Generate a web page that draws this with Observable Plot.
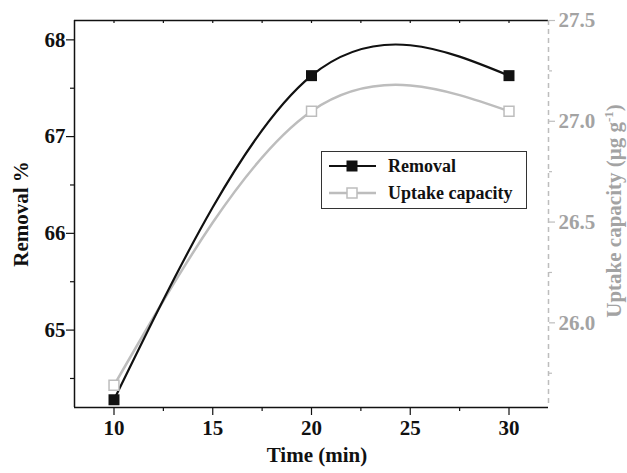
<!DOCTYPE html>
<html>
<head>
<meta charset="utf-8">
<script src="https://cdn.jsdelivr.net/npm/d3@7"></script>
<script src="https://cdn.jsdelivr.net/npm/@observablehq/plot@0.6"></script>
<style>
  html, body { margin: 0; padding: 0; background: #fff; }
  #wrap { position: relative; width: 627px; height: 473px; }
  #legend { position: absolute; left: 321px; top: 151px; width: 204px; height: 56px;
            border: 1px solid #333; background: #fff; }
</style>
</head>
<body>
<div id="wrap"></div>
<script>
// ---- data ----
const time = [10, 20, 30];
const removal = [64.28, 67.63, 67.63];
const uptake = [25.69, 27.05, 27.05];

const xDomain = [8, 32];
const removalDomain = [64.2, 68.2];
const uptakeDomain = [25.58, 27.5];

const xTicks = [10, 15, 20, 25, 30];
const xMinorTicks = [12.5, 17.5, 22.5, 27.5];
const removalTicks = [65, 66, 67, 68];
const removalMinorTicks = [64.5, 65.5, 66.5, 67.5];
const uptakeTicks = [26.0, 26.5, 27.0, 27.5];
const uptakeMinorTicks = [25.75, 26.25, 26.75, 27.25];

const seriesNames = ["Removal", "Uptake capacity"];

// ---- helpers ----
const toLeft = u => removalDomain[0] + (u - uptakeDomain[0]) * (removalDomain[1] - removalDomain[0]) / (uptakeDomain[1] - uptakeDomain[0]);
const fromLeft = r => uptakeDomain[0] + (r - removalDomain[0]) * (uptakeDomain[1] - uptakeDomain[0]) / (removalDomain[1] - removalDomain[0]);

const data = time.map((t, i) => ({time: t, removal: removal[i], uptake: uptake[i]}));
const GRAY_TXT = "#a3a3a3";
const GRAY_LINE = "#bdbdbd";
const FONT = "Liberation Serif";
const PLOT_H = 473 - 20 - 66;
const txt = {fontFamily: FONT, fontWeight: "bold", fontSize: 21};

const chart = Plot.plot({
  width: 627,
  height: 473,
  marginLeft: 74,
  marginRight: 79,
  marginTop: 20,
  marginBottom: 66,
  x: {domain: xDomain, label: null},
  y: {domain: removalDomain, label: null},
  marks: [
    // frame
    Plot.ruleY([removalDomain[0]], {stroke: "#111", strokeWidth: 1.5}),
    Plot.ruleY([removalDomain[1]], {stroke: "#111", strokeWidth: 1.5}),
    Plot.ruleX([xDomain[0]], {stroke: "#111", strokeWidth: 1.5}),
    Plot.ruleX([xDomain[1]], {stroke: GRAY_LINE, strokeWidth: 1.5, strokeDasharray: "5,4"}),
    // bottom axis
    Plot.axisX(xTicks, {anchor: "bottom", tickSize: 8, tickPadding: 5, ...txt,
      tickFormat: d => String(d), stroke: "#111", fill: "#111", strokeWidth: 1.2}),
    Plot.axisX(xMinorTicks, {anchor: "bottom", tickSize: 4, tickFormat: () => "", stroke: "#111", strokeWidth: 1.2}),
    // top inward ticks
    Plot.ruleX(xTicks.concat(xMinorTicks), {insetBottom: PLOT_H - 3, stroke: "#111", strokeWidth: 1.2}),
    // left axis
    Plot.axisY(removalTicks, {anchor: "left", tickSize: 8, tickPadding: 1, ...txt,
      tickFormat: d => String(d), stroke: "#111", fill: "#111", strokeWidth: 1.2}),
    Plot.axisY(removalMinorTicks, {anchor: "left", tickSize: 4, tickFormat: () => "", stroke: "#111", strokeWidth: 1.2}),
    // right axis (uptake, mapped)
    Plot.axisY(uptakeTicks.map(toLeft), {anchor: "right", tickSize: 6, tickPadding: 4, ...txt,
      tickFormat: d => fromLeft(d).toFixed(1), stroke: GRAY_LINE, fill: GRAY_TXT, strokeWidth: 1.2}),
    Plot.axisY(uptakeMinorTicks.map(toLeft), {anchor: "right", tickSize: 3, tickFormat: () => "", stroke: GRAY_LINE, strokeWidth: 1.2}),
    // lines
    Plot.line(data, {x: "time", y: d => toLeft(d.uptake), curve: "natural", stroke: GRAY_LINE, strokeWidth: 2.5}),
    Plot.line(data, {x: "time", y: "removal", curve: "natural", stroke: "#111", strokeWidth: 2.2}),
    // markers
    Plot.dot(data, {x: "time", y: d => toLeft(d.uptake), symbol: "square", r: 5.6, fill: "#fff", stroke: GRAY_LINE, strokeWidth: 1.5}),
    Plot.dot(data, {x: "time", y: "removal", symbol: "square", r: 6.2, fill: "#111", stroke: "none"})
  ]
});

const wrap = document.getElementById("wrap");
wrap.appendChild(chart);

// axis titles
const svg = d3.select(chart);
svg.append("text")
  .attr("x", 317).attr("y", 462)
  .attr("text-anchor", "middle")
  .attr("font-family", FONT).attr("font-weight", "bold")
  .attr("font-size", 21).attr("fill", "#111")
  .text("Time (min)");
svg.append("text")
  .attr("transform", "translate(28,214) rotate(-90)")
  .attr("text-anchor", "middle")
  .attr("font-family", FONT).attr("font-weight", "bold")
  .attr("font-size", 21).attr("fill", "#111")
  .text("Removal %");
const rt = svg.append("text")
  .attr("transform", "translate(621,211) rotate(-90)")
  .attr("text-anchor", "middle")
  .attr("font-family", FONT).attr("font-weight", "bold")
  .attr("font-size", 21).attr("fill", GRAY_TXT);
rt.append("tspan").text("Uptake capacity (μg g");
rt.append("tspan").attr("font-size", 13).attr("dy", -8).text("-1");
rt.append("tspan").attr("dy", 8).text(")");

// legend
const leg = document.createElement("div");
leg.id = "legend";
wrap.appendChild(leg);
const ls = d3.select(leg).append("svg").attr("width", 204).attr("height", 56);
const legStyles = [
  {stroke: "#111", fill: "#111", sw: 2.2, ms: 11, mstroke: "none"},
  {stroke: GRAY_LINE, fill: "#fff", sw: 2.5, ms: 10, mstroke: GRAY_LINE}
];
seriesNames.forEach((name, i) => {
  const s = legStyles[i];
  const cy = 14 + i * 27;
  ls.append("line").attr("x1", 7).attr("x2", 54).attr("y1", cy).attr("y2", cy)
    .attr("stroke", s.stroke).attr("stroke-width", s.sw);
  ls.append("rect").attr("x", 30 - s.ms / 2).attr("y", cy - s.ms / 2).attr("width", s.ms).attr("height", s.ms)
    .attr("fill", s.fill).attr("stroke", s.mstroke).attr("stroke-width", 1.5);
  ls.append("text").attr("x", 66).attr("y", cy + 6)
    .attr("font-family", FONT).attr("font-weight", "bold")
    .attr("font-size", 18).attr("fill", "#111")
    .text(name);
});
</script>
</body>
</html>
